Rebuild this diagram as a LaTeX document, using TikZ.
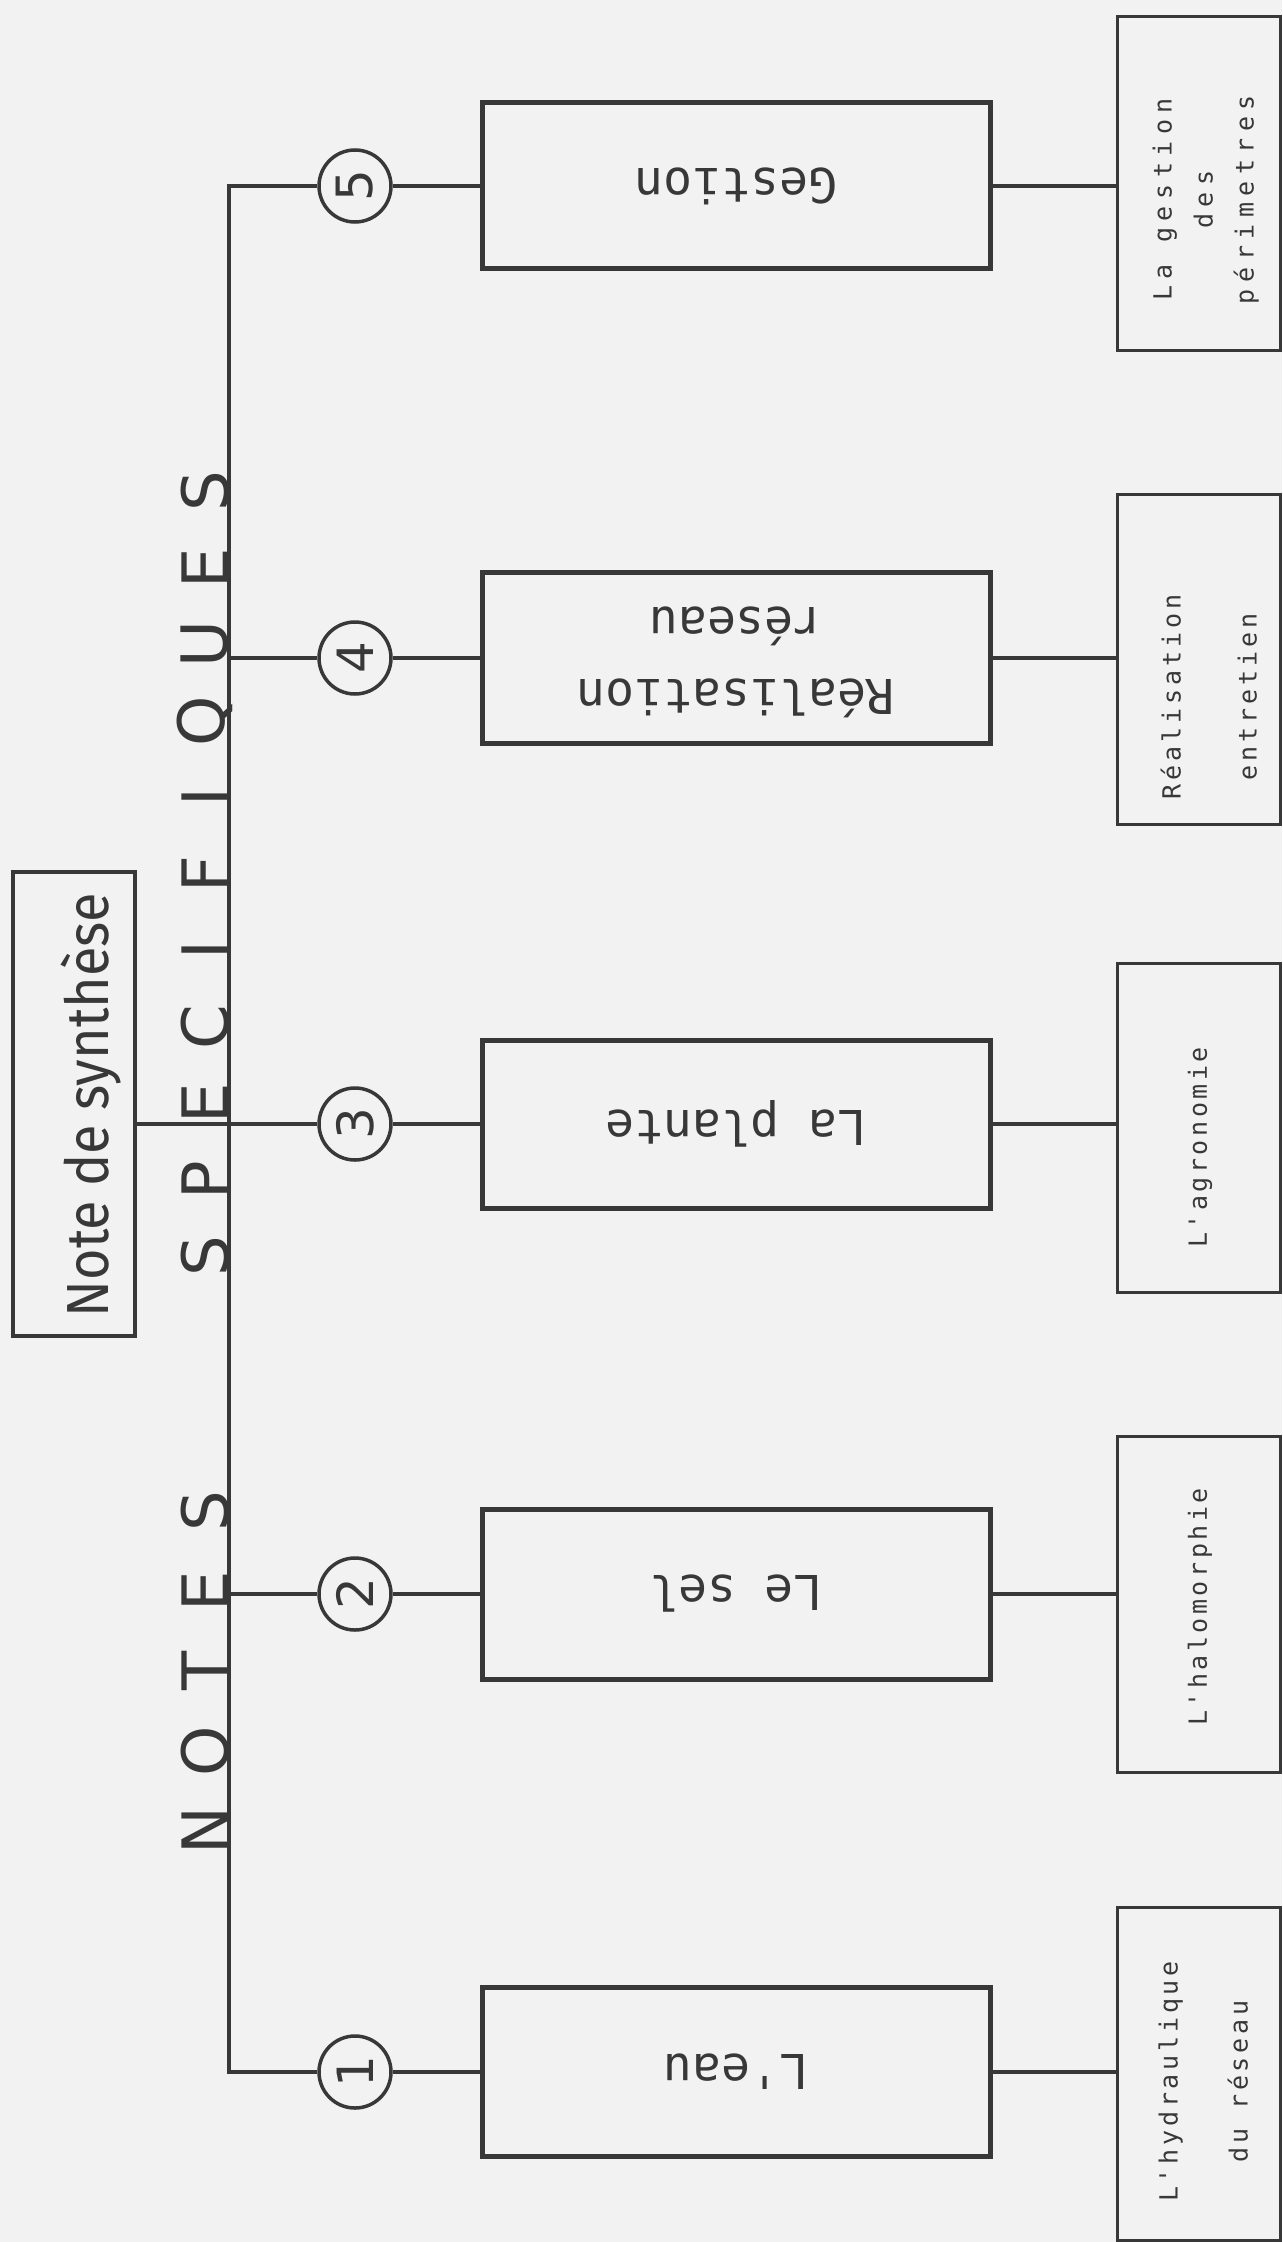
\documentclass[tikz,border=0pt]{standalone}
\usepackage{fontspec}
\setmainfont{DejaVu Sans}
\newfontfamily\notefont{Fira Sans}
\newfontfamily\boxfont{DejaVu Sans Mono}
\newfontfamily\smallfont{DejaVu Sans Mono}
\definecolor{ink}{gray}{0.22}
\definecolor{paper}{gray}{0.95}
\tikzset{
  ln/.style={draw=ink, line width=3.5pt},
  notebox/.style={draw=ink, line width=3.5pt, rectangle, inner sep=0pt,
    minimum width=122pt, minimum height=464pt},
  notetxt/.style={inner sep=0pt, text=ink, font=\notefont\fontsize{54}{60}\selectfont},
  midbox/.style={draw=ink, line width=5pt, rectangle, inner sep=0pt, text=ink,
    minimum width=508pt, font=\boxfont\fontsize{48}{72}\selectfont},
  rbox/.style={draw=ink, line width=3pt, rectangle, inner sep=0pt,
    minimum width=163pt},
  rtxt/.style={inner sep=0pt, text=ink},
  numcirc/.style={draw=ink, line width=3.5pt, circle, inner sep=0pt, minimum size=72pt,
    text=ink, font=\fontsize{50}{60}\selectfont},
  letter/.style={inner sep=0pt, text=ink, font=\fontsize{64}{70}\selectfont}
}
\newcommand\rtext[3]{{\smallfont\addfontfeature{LetterSpace=#1}\fontsize{25}{#2}\selectfont
  \rotatebox{90}{\begin{tabular}{@{}c@{}}#3\end{tabular}}}}
\begin{document}
\begin{tikzpicture}[x=1pt,y=-1pt]
\clip (0,0) rectangle (1282,2242);
\fill[paper] (0,0) rectangle (1282,2242);

% Note de synthese
\node[notebox] (note) at (74,1104) {};
\node[notetxt] (notet) at (91,1105) {\rotatebox{90}{\scalebox{1}[1.1]{Note de synthèse}}};

% NOTES SPECIFIQUES letters
\foreach [count=\i] \ch/\yy in {N/1831,O/1751,T/1671,E/1591,S/1511,
  S/1256,P/1180,E/1103,C/1027,I/950,F/874,I/797,Q/721,U/644,E/568,S/491}
  {\node[letter] (let\i) at (205,\yy) {\rotatebox{90}{\ch}};}

\coordinate (spine) at (229,0);

% circles
\node[numcirc] (c5) at (355,186) {\rotatebox{90}{5}};
\node[numcirc] (c4) at (355,658) {\rotatebox{90}{4}};
\node[numcirc] (c3) at (355,1124) {\rotatebox{90}{3}};
\node[numcirc] (c2) at (355,1594) {\rotatebox{90}{2}};
\node[numcirc] (c1) at (355,2072) {\rotatebox{90}{1}};

% middle boxes
\node[midbox, minimum height=166pt] (m5) at (736,186) {\rotatebox{180}{Gestion}};
\node[midbox, minimum height=171pt] (m4) at (736,658) {\rotatebox{180}{\begin{tabular}{@{}c@{}}Réalisation\\réseau\end{tabular}}};
\node[midbox, minimum height=168pt] (m3) at (736,1124) {\rotatebox{180}{La plante}};
\node[midbox, minimum height=170pt] (m2) at (736,1594) {\rotatebox{180}{Le sel}};
\node[midbox, minimum height=169pt] (m1) at (736,2072) {\rotatebox{180}{L'eau}};

% right boxes
\node[rbox, minimum height=333pt] (r5) at (1198.5,183.5) {};
\node[rbox, minimum height=330pt] (r4) at (1198.5,659) {};
\node[rbox, minimum height=329pt] (r3) at (1198.5,1127.5) {};
\node[rbox, minimum height=336pt] (r2) at (1198.5,1604) {};
\node[rbox, minimum height=333pt] (r1) at (1198.5,2073.5) {};

\node[rtxt] (t5) at ([xshift=6pt,yshift=-16pt]r5.center) {\rtext{26}{41}{La gestion\\des\\périmetres}};
\node[rtxt] (t4) at ([xshift=5pt,yshift=-38pt]r4.center) {\rtext{16}{76}{Réalisation\\entretien}};
\node[rtxt] (t3) at ([yshift=-20pt]r3.center) {\rtext{14}{42}{L'agronomie}};
\node[rtxt] (t2) at ([yshift=-3pt]r2.center) {\rtext{14}{42}{L'halomorphie}};
\node[rtxt] (t1) at ([yshift=-8pt]r1.center) {\rtext{15}{70}{L'hydraulique\\du réseau}};

% spine
\draw[ln] (c5.west) -| (spine |- c1.west) -- (c1.west);
\foreach \k in {2,3,4} {\draw[ln] (spine |- c\k.west) -- (c\k.west);}
\draw[ln] (note.east |- c3.west) -- (spine |- c3.west);

% circle to middle boxes, middle to right
\foreach \k in {1,...,5} {
  \draw[ln] (c\k.east) -- (m\k.west);
  \draw[ln] (m\k.east) -- (m\k.east -| r\k.west);
}
\end{tikzpicture}
\end{document}
